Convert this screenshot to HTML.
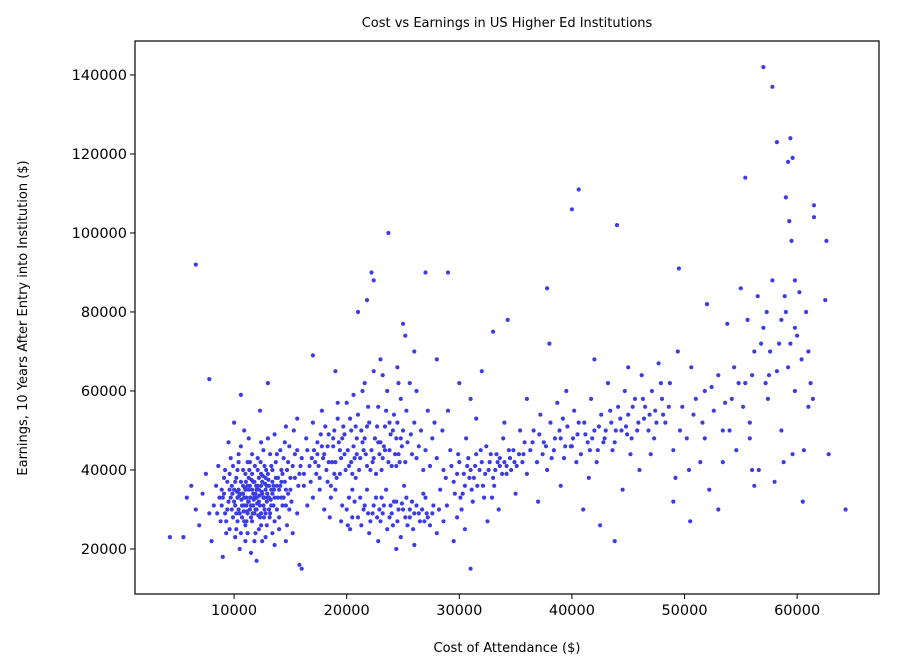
<!DOCTYPE html>
<html><head><meta charset="utf-8">
<style>
html,body{margin:0;padding:0;background:#fff;}
svg{display:block;font-family:"DejaVu Sans","Liberation Sans",sans-serif;}
</style></head>
<body>
<svg id="chart" width="897" height="671" viewBox="0 0 897 671" xmlns="http://www.w3.org/2000/svg">
<rect width="897" height="671" fill="#fff"/>
<text x="507" y="27" font-size="13" text-anchor="middle">Cost vs Earnings in US Higher Ed Institutions</text>
<text x="507" y="652" font-size="13" text-anchor="middle">Cost of Attendance ($)</text>
<text transform="translate(27,318) rotate(-90)" font-size="13" text-anchor="middle">Earnings, 10 Years After Entry into Institution ($)</text>
<g id="points"></g>
<g id="xticks"></g>
<g id="yticks"></g>
<rect x="135" y="41" width="744" height="553" fill="none" stroke="#000" stroke-width="1.2"/>
</svg>
<script>
const xTicks=[10000,20000,30000,40000,50000,60000];
const yTicks=[20000,40000,60000,80000,100000,120000,140000];
// [cost in $1000, earnings in $1000]
const samples=[
[4.3,23],[5.5,23],[5.8,33],[6.2,36],[6.6,30],[6.9,26],[7.2,34],[7.5,39],[7.8,29],[8,22],[8.2,31],[8.4,36],[8.6,41],[8.8,27],[9,33],[9.1,38],[9.3,24],[9.4,30],[9.6,35],[9.7,43],[9.9,28],[10,32],[10.1,37],[10.2,25],[10.3,40],[10.4,30],[10.5,34],[10.6,46],[10.7,28],[10.8,36],[10.9,31],[11,39],[11,22],[11.1,33],[11.2,29],[11.3,35],[11.4,42],[11.5,31],[11.6,27],[11.7,37],[11.8,33],[11.9,24],[12,35],[12,30],[12.1,40],[12.2,32],[12.3,28],[12.4,36],[12.5,34],[12.6,45],[12.7,30],[12.8,38],[12.9,26],[13,33],[13,48],[13.1,36],[13.2,29],[13.3,41],[13.4,34],[13.5,31],[13.6,21],[13.7,38],[13.8,44],[13.9,33],[14,28],[14.1,36],[14.2,40],[14.3,31],[14.5,47],[14.6,35],[14.7,26],[14.8,42],[15,38],[15.1,32],[15.3,50],[15.4,44],[15.6,29],[15.7,36],[15.8,16],[15.9,41],[10.5,20],[11.5,19],[12.5,22],[9.5,47],[10,52],[12.3,55],[13,62],[9,18],[7.8,63],[6.6,92],[10.6,59],[11,26],[11.8,29],[12.4,26],[10.8,34],[11.3,38],[12.7,33],[13.4,37],[14.4,33],[9.8,36],[10.2,29],[11.7,31],[12.1,36],[12.9,32],[8.7,33],[9.2,29],[13.6,27],[14.9,30],[15.2,24],[16,15],[12,17],
[10.4,35],[10.9,33],[11.4,30],[11.9,34],[12.2,38],[12.6,31],[13.1,30],[13.3,35],[11.2,36],[10.7,31],[9.7,33],[11.6,35],[12.8,35],[12.4,29],[11.1,27],[10.3,27],[13.8,36],[14.2,37],[9.4,37],[8.9,35],
[9.5,32],[9.6,39],[9.8,30],[9.9,41],[10,35],[10.1,31],[10.2,38],[10.3,33],[10.4,44],[10.5,29],[10.6,37],[10.7,34],[10.8,40],[10.9,27],[11,35],[11.1,31],[11.2,42],[11.3,32],[11.4,36],[11.5,28],[11.6,39],[11.7,34],[11.8,37],[11.9,30],[12,33],[12.1,43],[12.2,35],[12.3,31],[12.4,39],[12.5,37],[12.6,33],[12.7,41],[12.8,29],[12.9,36],[13,39],[13.1,33],[13.2,44],[13.3,31],[13.4,40],[13.5,36],[13.6,33],[13.7,42],[13.8,30],[13.9,38],[14,35],[14.1,45],[14.2,33],[14.3,39],[14.4,43],[14.5,37],[14.6,31],[14.7,40],[14.8,34],[14.9,46],[15,35],[15.2,41],[15.4,38],[15.6,45],[15.8,39],[16,43],
[8.5,29],[8.9,31],[9.1,34],[9.3,27],[9.6,25],[10.1,23],[10.6,24],[11.2,24],[11.8,22],[12.2,25],[12.8,23],[13.4,24],[14,25],[14.6,22],[9.2,40],[10.4,42],[11.6,44],[12.4,47],[13.6,49],[14.6,51],[15.6,53],[11.3,48],[10.9,50],
[10.45,33.5],[10.95,35.5],[11.45,33],[11.95,36],[12.45,34.5],[12.95,34],[11.25,32],[11.75,32.5],[12.25,33.5],[12.75,36.5],[10.65,32.5],[11.05,37],[11.55,37.5],[12.05,31.5],[12.55,38.5],[13.05,37.5],[13.55,35],[13.25,32.5],[10.25,34.5],[9.85,34],[11.35,40],[11.85,41],[12.35,42],[12.85,40],[11.15,29.5],[11.65,29],[12.15,28.5],[12.65,28],[10.85,29.5],[13.15,28],
[16.2,39],[16.5,45],[16.8,37],[17,52],[17.2,42],[17.4,47],[17.6,38],[17.8,55],[18,44],[18.2,40],[18.4,49],[18.6,36],[18.8,46],[19,42],[19.2,53],[19.4,39],[19.6,48],[19.8,44],[20,57],[20.2,41],[20.4,50],[20.6,46],[20.8,38],[21,54],[21.2,43],[21.4,60],[21.6,48],[21.8,41],[22,52],[22.2,45],[22.4,65],[22.6,39],[22.8,56],[23,47],[23.2,43],[23.4,51],[23.6,60],[23.8,45],[24,41],[24.2,54],[24.4,48],[24.6,44],[24.8,58],[25,50],[25.2,42],[25.4,47],[25.6,62],[25.8,44],[26,52],[26.4,46],[26.8,40],[27.2,55],[27.6,48],[28,43],[17,33],[18,30],[19,35],[18.5,28],[20.5,35],[16.5,31],
[17.5,41],[18.3,46],[19.1,38],[19.9,40],[20.7,43],[21.5,45],[22.3,42],[23.1,40],[23.9,49],[24.7,42],[16.9,43],[18.9,50],[20.9,48],[22.9,44],[24.3,44],[21.1,40],
[16.4,48],[16.7,41],[17.1,45],[17.3,39],[17.7,49],[17.9,43],[18.1,51],[18.3,37],[18.7,42],[18.9,39],[19.3,47],[19.5,43],[19.7,51],[20.1,45],[20.3,53],[20.5,39],[20.9,44],[21.3,50],[21.7,44],[21.9,56],[22.1,40],[22.5,48],[22.7,51],[23.3,46],[23.5,55],[23.7,42],[24.1,50],[24.5,52],[24.9,46],[25.3,55],[25.7,49],[26.2,43],[26.6,50],[27,45],[27.4,41],[27.8,52],[17.6,35],[18.6,33],[19.6,31],[20.2,33],[16.2,36],[19.2,57],[20.6,59],[21.6,62],[23.2,64],[24.6,62],[26.2,60],
[17.4,44],[18.4,42],[19.4,45],[20.4,42],[21.4,47],[22.4,43],[23.4,45],[24.4,41],[18.8,48],[19.8,49],[20.8,51],[21.8,51],[22.8,47],[23.8,52],[24.8,48],[17.8,46],
[19.5,27],[20,30],[20.3,25],[20.7,32],[21,28],[21.3,26],[21.6,31],[22,24],[22.3,29],[22.6,33],[23,27],[23.3,31],[23.6,25],[24,29],[24.2,32],[24.5,27],[24.8,23],[25,30],[25.3,33],[25.6,28],[25.9,25],[26.2,31],[26.5,27],[26.8,34],[27.1,29],[27.4,26],[27.7,31],[28,24],[22.8,22],[24.4,20],[26,21],[27,33],[25.1,36],[23.5,35],[21.8,35],
[20.5,28],[21.5,30],[22.1,27],[22.9,30],[23.8,28],[24.6,30],[25.4,26],[26,29],[26.7,30],[27.2,28],[28.2,30],[28.6,27],[23.1,33],[24.1,26],[25.8,32],[21.2,33],[20.1,26],
[22.4,31],[23.2,29],[24.4,32],[25.2,28],[26.4,29],[27.6,29],[21.9,29],[23.9,31],[25.6,30],[24.9,31.5],[22.7,28],[26.9,27],
[21,80],[21.8,83],[22.2,90],[22.4,88],[23.7,100],[25,77],[25.2,74],[27,90],[29,90],[26,70],[23,68],[19,65],[17,69],[24.5,66],[28,68],
[28.3,35],[28.6,40],[28.9,31],[29.2,45],[29.5,37],[29.8,28],[30,42],[30.3,34],[30.6,48],[30.9,38],[31.2,32],[31.5,44],[31.8,40],[32.1,36],[32.4,46],[32.7,42],[33,38],[33.3,44],[33.6,41],[33.9,48],[34.2,39],[34.5,43],[34.8,45],[35.1,41],[35.4,50],[35.7,44],[36,39],[29,55],[30,62],[31,58],[32,65],[33,75],[34.3,78],[31,15],[30.5,25],[32.5,27],[29.5,22],[33.5,30],[35,34],[31.5,53],[28.5,50],[34,52],[36,58],[30.2,30],[32.9,33],
[31,40],[32,42],[33.2,40],[34,42],[30.5,36],[29.8,39],[31.6,36],[34.6,40],
[29.3,41],[29.9,44],[30.4,39],[30.8,43],[31.3,38],[31.9,45],[32.3,39],[32.8,44],[33.4,42],[33.8,39],[34.4,45],[34.9,42],[35.3,44],[35.8,47],[30.1,33],[31.1,35],[32.2,33],[33.1,36],[29.6,34],[28.8,38],
[31.4,41],[32.6,40],[33.6,43],[34.2,41],[35.6,42],[30.7,41],
[36.3,45],[36.6,50],[36.9,42],[37.2,54],[37.5,47],[37.8,40],[38.1,52],[38.4,45],[38.7,57],[39,48],[39.3,43],[39.6,51],[39.9,46],[40.2,55],[40.5,49],[40.8,44],[41.1,52],[41.4,47],[41.7,58],[42,50],[42.3,45],[42.6,54],[42.9,48],[43.2,62],[43.5,52],[43.8,47],[44.1,56],[44.4,50],[44.7,60],[45,54],[45.3,48],[45.6,58],[45.9,52],[46.2,64],[46.5,56],[46.8,50],[47.1,60],[47.4,55],[47.7,67],[48,58],[37,32],[39,36],[41,30],[42.5,26],[43.8,22],[44.5,35],[46,40],[38,72],[37.8,86],[40,106],[40.6,111],[44,102],[42,68],[45,66],[47,44],[39.5,60],[41.5,38],
[38.5,48],[40,46],[41.8,48],[43,50],[44.8,51],[46.4,53],[37.4,44],[42.2,42],
[36.5,47],[37.1,49],[37.7,46],[38.2,43],[38.9,50],[39.4,46],[40.1,48],[40.6,52],[41.2,49],[41.6,45],[42.4,51],[42.8,47],[43.4,55],[43.9,50],[44.3,53],[44.9,49],[45.4,56],[45.8,50],[46.3,58],[46.9,54],[47.5,52],[47.9,62],[39.2,53],[40.4,42],[43.6,45],[45.2,44],[47.3,48],[48.1,54],
[48.3,52],[48.7,62],[49,45],[49.4,70],[49.8,56],[50.2,48],[50.6,66],[51,58],[51.4,42],[51.8,60],[52.2,35],[52.6,55],[53,64],[53.4,50],[53.8,77],[54.2,58],[54.6,45],[55,86],[55.4,62],[55.8,52],[56.2,70],[56.6,40],[57,76],[57.4,58],[57.8,88],[58.2,65],[58.6,50],[59,80],[59.4,72],[59.8,60],[60.2,85],[60.6,45],[61,70],[61.4,58],[62.5,83],[62.6,98],[61.5,104],[61.5,107],[59.5,98],[59.3,103],[59,109],[59.2,118],[59.6,119],[59.4,124],[58.2,123],[57.8,137],[57,142],[55.4,114],[62.8,44],[64.3,30],[60.5,32],[58,37],[56,40],[53,30],[50.5,27],[49.5,91],[49,32],[52,82],[54,50],[56.5,84],[57.5,64],[58.8,42],[60,74],[59.8,88],[58.6,78],[57.2,62],[55.8,48],[54.8,62],[51.8,48],[50.4,40],[49.2,38],[53.4,42],[56.2,36],[59.6,44],[61,56],
[48.6,56],[49.6,50],[50.8,54],[51.6,52],[52.4,61],[53.6,57],[54.4,66],[55.2,56],[56,64],[56.8,72],[57.6,70],[58.4,72],[59.2,66],[59.8,76],[60.4,68],[58.9,84],[57.3,80],[55.6,78],[60.8,80],[61.2,62]
];
const NS='http://www.w3.org/2000/svg';
const X0=135,X1=879,Y0=594,Y1=41,XMIN=1200,XMAX=67270,YMIN=8600,YMAX=148600;
function sx(v){return X0+(v-XMIN)/(XMAX-XMIN)*(X1-X0);}
function sy(v){return Y0-(v-YMIN)/(YMAX-YMIN)*(Y0-Y1);}
const pg=document.getElementById('points');
samples.forEach(function(p){
  const c=document.createElementNS(NS,'circle');
  c.setAttribute('cx',sx(p[0]*1000).toFixed(1));
  c.setAttribute('cy',sy(p[1]*1000).toFixed(1));
  c.setAttribute('r','2.1');
  c.setAttribute('fill','#3c3ce4');
  
  
  pg.appendChild(c);
});
const xg=document.getElementById('xticks');
xTicks.forEach(function(t){
  const x=sx(t);
  const l=document.createElementNS(NS,'line');
  l.setAttribute('x1',x);l.setAttribute('x2',x);l.setAttribute('y1',Y0);l.setAttribute('y2',Y0+5);
  l.setAttribute('stroke','#000');
  
  
  xg.appendChild(l);
  const tx=document.createElementNS(NS,'text');
  tx.setAttribute('x',x);tx.setAttribute('y',Y0+21);
  tx.setAttribute('font-size','14.5');tx.setAttribute('text-anchor','middle');
  
  
  tx.textContent=t;
  xg.appendChild(tx);
});
const yg=document.getElementById('yticks');
yTicks.forEach(function(t){
  const y=sy(t);
  const l=document.createElementNS(NS,'line');
  l.setAttribute('x1',X0-5);l.setAttribute('x2',X0);l.setAttribute('y1',y);l.setAttribute('y2',y);
  l.setAttribute('stroke','#000');
  
  
  yg.appendChild(l);
  const tx=document.createElementNS(NS,'text');
  tx.setAttribute('x',X0-8);tx.setAttribute('y',y+5);
  tx.setAttribute('font-size','14.5');tx.setAttribute('text-anchor','end');
  
  
  tx.textContent=t;
  yg.appendChild(tx);
});
</script>
</body></html>
